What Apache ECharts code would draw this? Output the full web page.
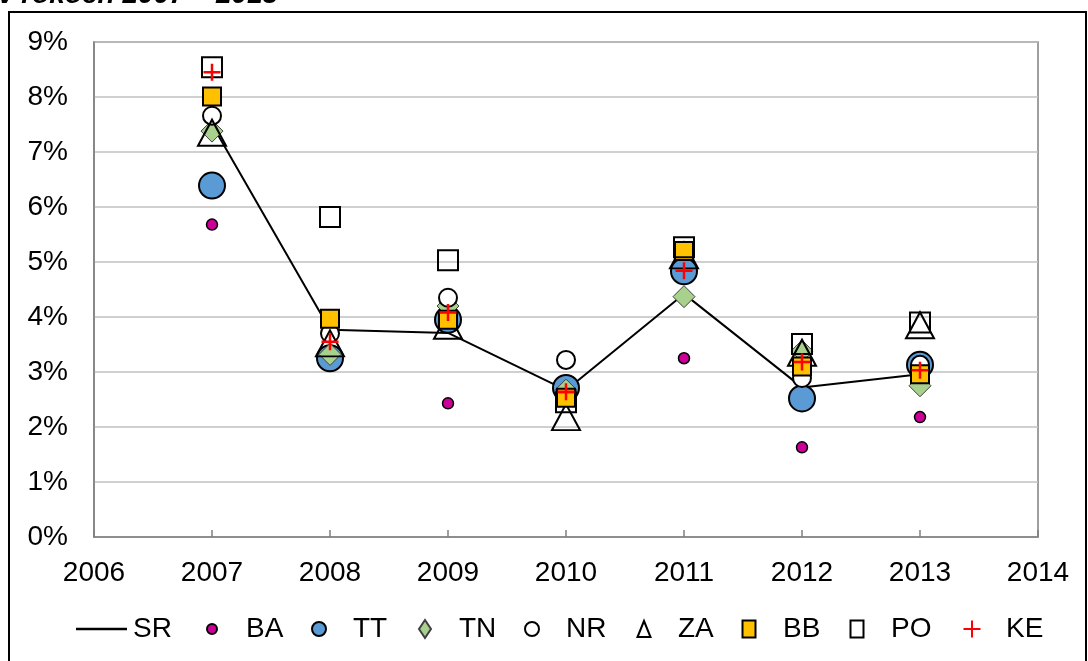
<!DOCTYPE html>
<html>
<head>
<meta charset="utf-8">
<title>v rokoch 2007 – 2013</title>
<script src="https://cdn.jsdelivr.net/npm/echarts@6/dist/echarts.min.js"></script>
<style>
  html, body { margin: 0; padding: 0; background: #fff; }
  #chart { width: 1088px; height: 661px; }
</style>
</head>
<body>
<div id="chart"></div>
<script>
// roky
const years = [2007, 2008, 2009, 2010, 2011, 2012, 2013]

// hodnoty v % (SR = ciara, kraje = body)
const SR = [7.50, 3.77, 3.71, 2.67, 4.42, 2.72, 2.96]
const BA = [5.68, 3.28, 2.43, 2.68, 3.25, 1.63, 2.18]
const TT = [6.39, 3.25, 3.95, 2.71, 4.83, 2.52, 3.13]
const TN = [7.38, 3.32, 4.20, 2.67, 4.37, 3.38, 2.75]
const NR = [7.66, 3.70, 4.35, 3.22, 5.20, 2.89, 3.13]
const ZA = [7.35, 3.52, 3.84, 2.18, 5.12, 3.35, 3.85]
const BB = [8.01, 3.97, 3.95, 2.53, 5.20, 3.10, 2.96]
const PO = [8.54, 5.82, 5.03, 2.45, 5.27, 3.51, 3.90]
const KE = [8.45, 3.55, 4.08, 2.64, 4.84, 3.18, 3.03]

// os Y
const yTicks = [0, 1, 2, 3, 4, 5, 6, 7, 8, 9]

const FONT = '"Liberation Sans", Arial, sans-serif'
const PLUS = 'path://M8,0L8,16M0,8L16,8'

const toPoints = arr => arr.map((v, i) => [years[i], v])

// vzhlad bodovych serii
const markers = [
  { name: 'BA', data: BA, symbol: 'circle', size: 11, color: '#CC0099', border: '#000', bw: 1.5, legend: [211, 10, 12] },
  { name: 'TT', data: TT, symbol: 'circle', size: 26, color: '#5B9BD5', border: '#000', bw: 2, legend: [318, 14, 18] },
  { name: 'TN', data: TN, symbol: 'diamond', size: 22, color: '#A9D18E', border: '#3f3f3f', bw: 1, legend: [424, 12, 18] },
  { name: 'NR', data: NR, symbol: 'circle', size: 18, color: '#ffffff', border: '#000', bw: 2, legend: [531, 14, 18] },
  { name: 'ZA', data: ZA, symbol: 'triangle', size: [28, 26], color: 'rgba(255,255,255,0)', border: '#000', bw: 2, legend: [643, 13, 16] },
  { name: 'BB', data: BB, symbol: 'rect', size: 18, color: '#FFC000', border: '#000', bw: 2, legend: [748, 13, 17] },
  { name: 'PO', data: PO, symbol: 'rect', size: 20, color: 'rgba(255,255,255,0)', border: '#000', bw: 2, legend: [856, 13, 17] },
  { name: 'KE', data: KE, symbol: PLUS, size: 17, color: '#FF0000', border: '#FF0000', bw: 2.5, legend: [971, 17, 17] }
]

const scatterSeries = markers.map(m => ({
  name: m.name,
  type: 'scatter',
  data: toPoints(m.data),
  symbol: m.symbol,
  symbolSize: m.size,
  itemStyle: {
    color: m.color,
    borderColor: m.border,
    borderWidth: m.bw,
    opacity: 1
  },
  z: 3
}))

// legenda - kazda polozka zvlast, aby sedela poloha
const legendText = { fontSize: 28, color: '#000', fontFamily: FONT }
const legends = [
  {
    data: [{ name: 'SR', icon: 'rect' }],
    left: 76,
    top: 615,
    padding: 0,
    itemWidth: 51,
    itemHeight: 2.5,
    itemStyle: { borderWidth: 0 },
    textStyle: Object.assign({ padding: [0, 0, 0, 1] }, legendText)
  }
].concat(markers.map(m => {
  const [cx, w, h] = m.legend
  return {
    data: [m.name],
    left: cx - w / 2,
    top: 615,
    padding: 0,
    itemWidth: w,
    itemHeight: h,
    textStyle: Object.assign({ padding: [0, 0, 0, 34 - w / 2 - 5] }, legendText)
  }
}))

const chart = echarts.init(document.getElementById('chart'))

chart.setOption({
  animation: false,
  backgroundColor: '#fff',
  graphic: [
    {
      type: 'rect',
      silent: true,
      shape: { x: 9, y: 12, width: 1077, height: 700 },
      style: { fill: 'none', stroke: '#000', lineWidth: 2 }
    },
    {
      type: 'text',
      silent: true,
      x: -2,
      y: 9,
      style: {
        text: 'v rokoch 2007 – 2013',
        font: 'italic bold 28px ' + FONT,
        fill: '#000',
        textVerticalAlign: 'bottom',
        verticalAlign: 'bottom'
      }
    }
  ],
  legend: legends,
  grid: {
    left: 94,
    right: 50,
    top: 42,
    bottom: 124,
    show: true,
    borderColor: '#808080',
    borderWidth: 1.5,
    containLabel: false
  },
  xAxis: {
    type: 'value',
    min: 2006,
    max: 2014,
    interval: 1,
    axisLine: { show: true, onZero: false, lineStyle: { color: '#808080', width: 1.5 } },
    axisTick: { show: true, inside: true, length: 7, lineStyle: { color: '#808080', width: 1.5 } },
    splitLine: { show: false },
    axisLabel: {
      margin: 22,
      fontSize: 28,
      color: '#000',
      fontFamily: FONT,
      formatter: v => String(v)
    }
  },
  yAxis: {
    type: 'value',
    min: yTicks[0],
    max: yTicks[yTicks.length - 1],
    interval: 1,
    axisLine: { show: true, lineStyle: { color: '#808080', width: 1.5 } },
    axisTick: { show: false },
    splitLine: { show: true, lineStyle: { color: '#c0c0c0', width: 1.5 } },
    axisLabel: {
      margin: 26,
      fontSize: 28,
      color: '#000',
      fontFamily: FONT,
      formatter: '{value}%'
    }
  },
  series: [
    {
      name: 'SR',
      type: 'line',
      data: toPoints(SR),
      symbol: 'none',
      lineStyle: { color: '#000', width: 2 },
      itemStyle: { color: '#000' },
      z: 2
    }
  ].concat(scatterSeries)
})

window.addEventListener('resize', () => chart.resize())
</script>
</body>
</html>
